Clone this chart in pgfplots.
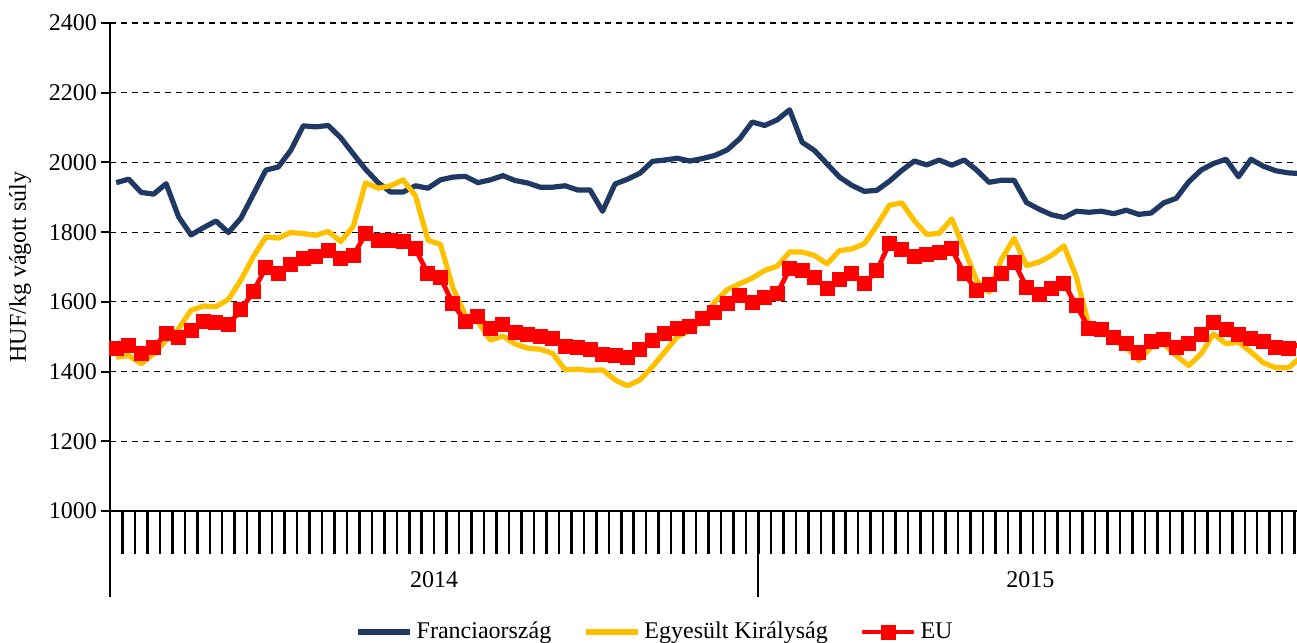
\documentclass[border=0pt]{standalone}
\usepackage{pgfplots}
\usepackage{pgfplotstable}
\pgfplotsset{compat=1.18}
\usepackage{fontspec}
\setmainfont{Liberation Serif}
\definecolor{frc}{HTML}{1F3864}
\definecolor{ukc}{HTML}{FFC000}
\definecolor{euc}{HTML}{FF0000}
\newcommand\fs{\fontsize{12pt}{14pt}\selectfont}

\pgfplotstableread{
i fr uk eu
0 1942 1441 1465
1 1952 1446 1474
2 1914 1422 1451
3 1909 1451 1470
4 1939 1490 1508
5 1844 1523 1497
6 1792 1576 1518
7 1813 1588 1544
8 1832 1586 1541
9 1799 1607 1535
10 1840 1663 1577
11 1909 1730 1630
12 1978 1786 1699
13 1987 1783 1680
14 2035 1799 1708
15 2105 1796 1723
16 2102 1791 1730
17 2106 1802 1747
18 2071 1773 1723
19 2025 1816 1732
20 1980 1942 1795
21 1942 1926 1776
22 1915 1933 1776
23 1915 1950 1774
24 1933 1904 1752
25 1926 1777 1680
26 1950 1765 1669
27 1958 1640 1595
28 1960 1562 1543
29 1942 1543 1557
30 1950 1490 1524
31 1962 1502 1536
32 1948 1479 1511
33 1941 1467 1505
34 1929 1464 1500
35 1929 1452 1495
36 1933 1405 1471
37 1921 1407 1469
38 1921 1403 1464
39 1860 1405 1450
40 1938 1376 1445
41 1952 1359 1441
42 1969 1376 1462
43 2003 1414 1488
44 2007 1457 1510
45 2012 1500 1524
46 2004 1518 1530
47 2011 1546 1551
48 2020 1600 1570
49 2036 1635 1594
50 2068 1652 1618
51 2116 1668 1599
52 2106 1690 1613
53 2122 1702 1623
54 2151 1743 1695
55 2058 1743 1690
56 2034 1733 1671
57 1996 1709 1637
58 1958 1747 1663
59 1934 1752 1680
60 1917 1767 1652
61 1920 1819 1690
62 1946 1877 1768
63 1977 1884 1749
64 2004 1833 1730
65 1993 1793 1736
66 2007 1797 1742
67 1992 1838 1752
68 2007 1752 1680
69 1978 1661 1634
70 1943 1628 1650
71 1949 1723 1680
72 1949 1782 1714
73 1885 1704 1642
74 1866 1714 1621
75 1850 1733 1637
76 1842 1761 1653
77 1860 1671 1589
78 1857 1532 1525
79 1860 1518 1521
80 1853 1489 1497
81 1863 1470 1480
82 1851 1432 1456
83 1855 1470 1485
84 1884 1480 1491
85 1897 1446 1470
86 1944 1417 1480
87 1978 1451 1507
88 1997 1508 1542
89 2009 1480 1520
90 1959 1484 1507
91 2009 1456 1494
92 1989 1425 1487
93 1976 1411 1470
94 1970 1411 1465
95 1968 1441 1480
}\data

\begin{document}
\begin{tikzpicture}
\begin{axis}[
  name=ax,
  width=593.5pt, height=244pt, scale only axis,
  xmin=-0.5, xmax=94.69,
  ymin=1000, ymax=2400,
  ytick={1000,1200,...,2400},
  xtick={-0.5},
  xticklabels={},
  minor xtick={0.5,1.5,...,94.5},
  tick align=outside,
  major tick length=4.5pt,
  minor tick length=21.5pt,
  tick style={black, line width=1pt},
  minor tick style={black, line width=1.25pt},
  axis x line*=bottom, axis y line*=left,
  axis line style={line width=1pt, black},
  ymajorgrids,
  major grid style={black, line width=0.55pt, dash pattern=on 3pt off 2.5pt},
  /pgf/number format/assume math mode=true,
  /pgf/number format/1000 sep={},
  yticklabel style={font=\fs, xshift=1.5pt},
  ylabel={HUF/kg vágott súly},
  every axis y label/.style={at={(axis description cs:-0.0758,0.5)}, rotate=90, anchor=center, font=\fs},
  legend style={at={(0.46,-0.248)}, anchor=center, draw=none, font=\fs, inner sep=0pt,
    /tikz/every even column/.append style={column sep=14pt}},
  legend columns=3,
  legend image code/.code={\draw[#1, mark repeat=2, mark phase=2] plot coordinates {(0pt,0pt) (13pt,0pt) (26pt,0pt)};},
]
\addplot[frc, line width=2.6pt, line join=round] table[x=i,y=fr]{\data};
\addplot[ukc, line width=2.6pt, line join=round] table[x=i,y=uk]{\data};
\addplot[euc, line width=2.4pt, line join=round, mark=square*, mark size=3.5pt,
  mark options={solid, fill=euc, draw=euc, line width=0pt}] table[x=i,y=eu]{\data};
\legend{Franciaország, Egyesült Királyság, EU}
\coordinate (s0) at (axis cs:-0.5,1000);
\coordinate (s1) at (axis cs:51.5,1000);
\coordinate (y14) at (axis cs:25.5,1000);
\coordinate (y15) at (axis cs:73.3,1000);
\end{axis}
\draw[line width=1pt, black] (s0) -- ++(0,-43pt);
\draw[line width=1pt, black] (s1) -- ++(0,-43pt);
\node[font=\fs] at ([yshift=-34.5pt]y14) {2014};
\node[font=\fs] at ([yshift=-34.5pt]y15) {2015};
\pgfresetboundingbox
\path ([xshift=-55pt,yshift=-66pt]ax.south west) rectangle ([yshift=11.5pt]ax.north east);
\end{tikzpicture}
\end{document}
